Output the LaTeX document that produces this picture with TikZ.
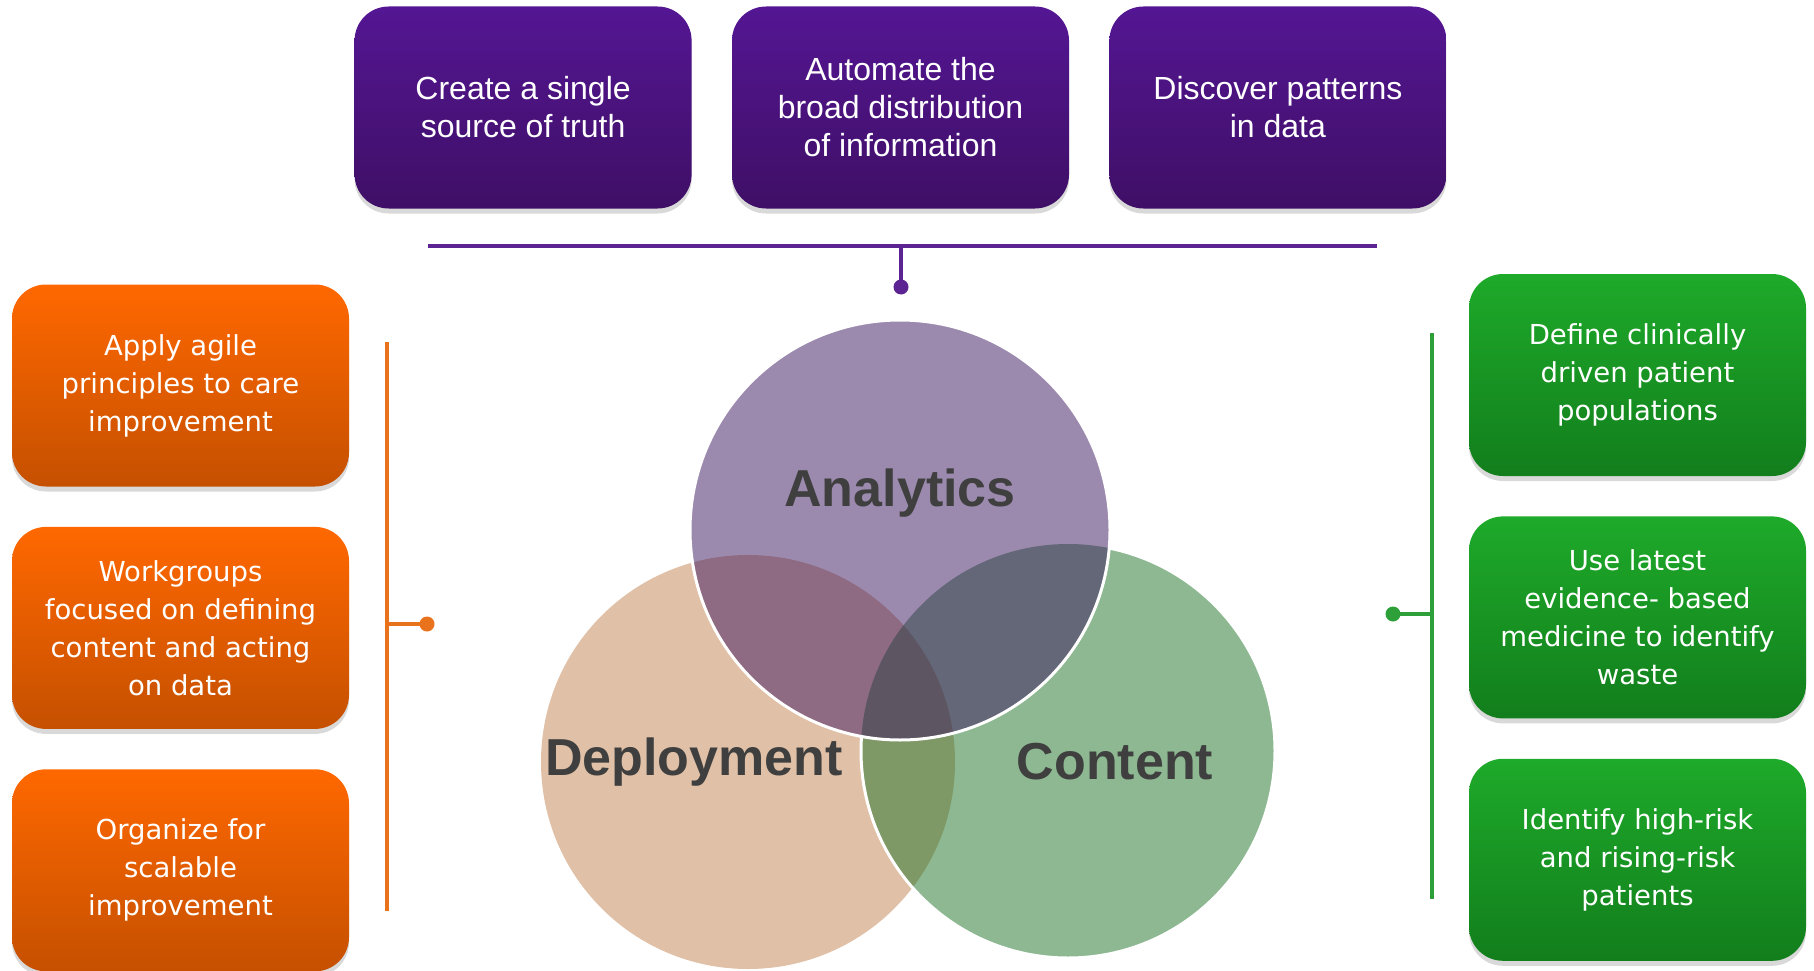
\documentclass[tikz,border=0pt]{standalone}
\usepackage{fontspec}
\setmainfont{Liberation Sans}
\newfontfamily\tilefont{DejaVu Sans}
\usetikzlibrary{positioning, shadows}

\definecolor{goalTop}{RGB}{84,22,147}
\definecolor{goalBottom}{RGB}{63,15,102}
\definecolor{deployTop}{RGB}{255,104,0}
\definecolor{deployBottom}{RGB}{197,80,0}
\definecolor{contentTop}{RGB}{30,170,42}
\definecolor{contentBottom}{RGB}{18,126,28}
\definecolor{goalLine}{RGB}{92,36,146}
\definecolor{deployLine}{RGB}{232,115,28}
\definecolor{contentLine}{RGB}{45,160,58}
\definecolor{vennA}{RGB}{156,138,174}
\definecolor{vennD}{RGB}{224,192,166}
\definecolor{vennC}{RGB}{141,184,145}
\definecolor{vennAD}{RGB}{142,107,130}
\definecolor{vennAC}{RGB}{100,103,120}
\definecolor{vennDC}{RGB}{126,152,102}
\definecolor{vennADC}{RGB}{93,85,98}
\definecolor{vennText}{RGB}{63,63,63}

\begin{document}
\begin{tikzpicture}[x=1pt, y=-1pt,
        tile/.style={rounded corners=34pt, minimum width=337pt, minimum height=202pt,
            align=center, text=white,
            drop shadow={shadow xshift=0pt, shadow yshift=-5pt, opacity=0.3}},
        goal/.style={tile, top color=goalTop, bottom color=goalBottom,
            font=\fontsize{32}{38}\selectfont},
        deploy/.style={tile, top color=deployTop, bottom color=deployBottom,
            font=\tilefont\fontsize{27.5}{38}\selectfont},
        care/.style={tile, top color=contentTop, bottom color=contentBottom,
            font=\tilefont\fontsize{27.5}{38}\selectfont},
        bar/.style={line width=3.5pt},
        knob/.style={circle, inner sep=0pt, minimum size=15pt},
        venn label/.style={anchor=base, text=vennText,
            font=\bfseries\fontsize{52}{52}\selectfont}
    ]
        \useasboundingbox (0,0) rectangle (1814,971);

        % Top row
        \node [goal] (G2) at (900.5,107.5) {Automate the\\broad distribution\\of information};
        \node [goal, left=40pt of G2] (G1) {Create a single\\source of truth};
        \node [goal, right=40pt of G2] (G3) {Discover patterns\\in data};

        % Left column
        \node [deploy] (D1) at (180.5,385.5) {Apply agile\\principles to care\\improvement};
        \node [deploy, below=40pt of D1] (D2) {Workgroups\\focused on defining\\content and acting\\on data};
        \node [deploy, below=40pt of D2] (D3) {Organize for\\scalable\\improvement};

        % Right column
        \node [care] (C1) at (1637.5,375) {Define clinically\\driven patient\\populations};
        \node [care, below=40pt of C1] (C2) {Use latest\\evidence- based\\medicine to identify\\waste};
        \node [care, below=40pt of C2] (C3) {Identify high-risk\\and rising-risk\\patients};

        % Venn
        \coordinate (ana) at (900,530);
        \coordinate (dep) at (748,762);
        \coordinate (con) at (1068,751);
        \fill [vennD] (dep) circle [radius=207pt];
        \fill [vennC] (con) circle [radius=207pt];
        \begin{scope}
            \clip (dep) circle [radius=207pt];
            \fill [vennDC] (con) circle [radius=207pt];
        \end{scope}
        \draw [white, line width=3pt] (con) circle [radius=207pt];
        \fill [vennA] (ana) circle [radius=210pt];
        \begin{scope}
            \clip (ana) circle [radius=210pt];
            \fill [vennAD] (dep) circle [radius=207pt];
            \fill [vennAC] (con) circle [radius=207pt];
            \clip (dep) circle [radius=207pt];
            \fill [vennADC] (con) circle [radius=207pt];
        \end{scope}
        \draw [white, line width=3pt] (ana) circle [radius=210pt];

        \node [venn label] (LA) at (900,506) {Analytics};
        \node [venn label] (LD) at (694,775) {Deployment};
        \node [venn label] (LC) at (1115,779) {Content};

        % Brackets
        \coordinate (gl) at (428,246);
        \coordinate (gr) at (1377,246);
        \coordinate (gm) at (901,246);
        \node [knob, fill=goalLine] (gk) at (901,287) {};
        \draw [bar, goalLine] (gl) -- (gr);
        \draw [bar, goalLine] (gm) -- (gk.center);

        \coordinate (dt) at (387,342);
        \coordinate (db) at (387,911);
        \coordinate (dm) at (387,624);
        \node [knob, fill=deployLine] (dk) at (427,624) {};
        \draw [bar, deployLine] (dt) -- (db);
        \draw [bar, deployLine] (dm) -- (dk.center);

        \coordinate (ct) at (1432,333);
        \coordinate (cb) at (1432,899);
        \coordinate (cm) at (1432,614);
        \node [knob, fill=contentLine] (ck) at (1393,614) {};
        \draw [bar, contentLine] (ct) -- (cb);
        \draw [bar, contentLine] (cm) -- (ck.center);
    \end{tikzpicture}
\end{document}
